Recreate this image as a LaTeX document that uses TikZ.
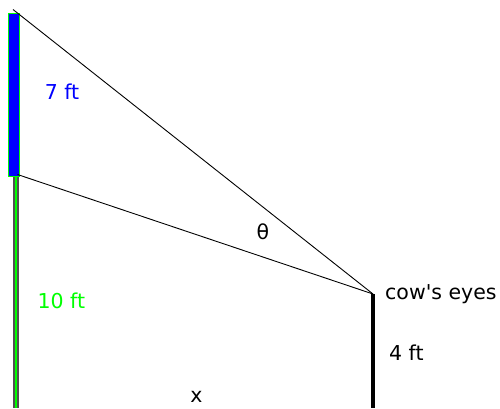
\documentclass[tikz,border=0pt]{standalone}
\usepackage{fontspec}
\newfontfamily\dejavu{DejaVu Sans}
\definecolor{pure green}{RGB}{0,255,0}
\definecolor{pole gray}{RGB}{80,80,80}
\tikzset{
  lbl/.style={inner sep=0pt, font=\dejavu\fontsize{20.5}{24}\selectfont},
  sight/.style={draw=black, line width=0.9pt},
}
\begin{document}
\begin{tikzpicture}[x=1pt,y=-1pt]
\useasboundingbox[fill=white] (0,0) rectangle (500,408);
% pole
\draw[pole gray, line width=6pt] (16,177) -- (16,408);
\draw[pure green, line width=2.5pt] (16,177) -- (16,408);
% sign
\node[draw=pure green, fill=blue, line width=1pt, minimum width=11pt, minimum height=163.5pt, inner sep=0pt, anchor=north west] (sign) at (7.5,12.5) {};
\coordinate (top) at (13,9.5);
\coordinate (bot) at (17.5,174.5);
\coordinate (eye) at (373,294);
\coordinate (ground) at (373,408);
\draw[sight] (top) -- (eye);
\draw[sight] (bot) -- (eye);
\draw[line width=3.3pt] (eye) -- (ground);
% labels
\node[lbl, text=blue, anchor=base] (seven) at (62,99.3) {7 ft};
\node[lbl, text=pure green, anchor=base] (ten) at (61.3,308.3) {10 ft};
\node[lbl, anchor=base] (theta) at (263,239.5) {θ};
\node[lbl, anchor=base west] (cow) at (385,299) {cow's eyes};
\node[lbl, anchor=base west] (four) at (389,360) {4 ft};
\node[lbl, anchor=base] (xlab) at (196.5,402) {x};
\end{tikzpicture}
\end{document}
